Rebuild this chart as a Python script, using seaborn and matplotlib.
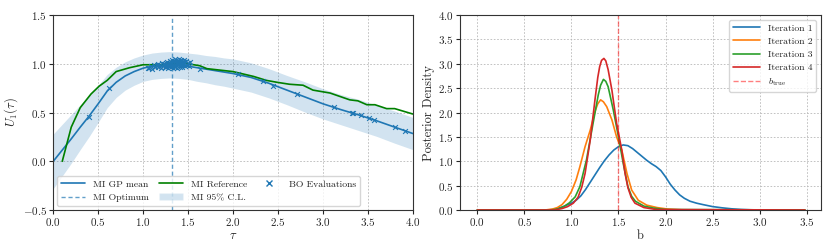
import numpy as np
import matplotlib.pyplot as plt
import seaborn as sns
from matplotlib.lines import Line2D
from matplotlib.patches import Patch

sns.set_style("ticks")
plt.rcParams['font.family'] = ['cmr10', 'DejaVu Serif']
plt.rcParams['mathtext.fontset'] = 'cm'
plt.rcParams['axes.formatter.use_mathtext'] = True
plt.rcParams['axes.edgecolor'] = '#333333'
plt.rcParams['axes.linewidth'] = 0.8

# ---- left panel data: MI utility vs tau ----
tau_gp = [0.0, 0.1, 0.2, 0.3, 0.4, 0.5, 0.6, 0.7, 0.8, 0.9, 1.0, 1.1, 1.2, 1.3,
          1.4, 1.5, 1.6, 1.7, 1.8, 1.9, 2.0, 2.2, 2.4, 2.6, 2.8, 3.0, 3.2, 3.4,
          3.6, 3.8, 4.0]
mean_gp = [0.0, 0.115, 0.23, 0.35, 0.465, 0.59, 0.72, 0.81, 0.875, 0.92, 0.955,
           0.975, 0.985, 0.99, 0.985, 0.975, 0.96, 0.945, 0.93, 0.915, 0.9,
           0.86, 0.80, 0.73, 0.66, 0.59, 0.53, 0.475, 0.415, 0.35, 0.285]
halfwidth_gp = [0.28, 0.265, 0.25, 0.23, 0.21, 0.19, 0.17, 0.155, 0.145, 0.14,
                0.135, 0.135, 0.135, 0.135, 0.135, 0.135, 0.14, 0.14, 0.145,
                0.145, 0.15, 0.15, 0.15, 0.15, 0.155, 0.155, 0.155, 0.16, 0.16,
                0.165, 0.165]

tau_ref = [0.10, 0.20, 0.30, 0.42, 0.51, 0.60, 0.70, 0.85, 1.0, 1.2, 1.43, 1.63,
           1.71, 2.0, 2.23, 2.37, 2.49, 2.63, 2.78, 2.89, 3.08, 3.30, 3.39, 3.49,
           3.58, 3.71, 3.80, 4.0]
u_ref = [0.0, 0.35, 0.55, 0.69, 0.77, 0.83, 0.92, 0.96, 0.99, 0.99, 1.01, 0.98,
         0.95, 0.92, 0.87, 0.83, 0.81, 0.79, 0.78, 0.73, 0.70, 0.63, 0.62, 0.58,
         0.58, 0.54, 0.54, 0.485]

tau_bo = [0.40, 0.62, 1.05, 1.07, 1.09, 1.10, 1.12, 1.13, 1.15, 1.16, 1.17, 1.18,
          1.19, 1.20, 1.21, 1.22, 1.23, 1.24, 1.25, 1.25, 1.26, 1.27, 1.27, 1.28,
          1.29, 1.29, 1.30, 1.30, 1.31, 1.31, 1.32, 1.32, 1.33, 1.33, 1.34, 1.34,
          1.35, 1.35, 1.36, 1.36, 1.37, 1.37, 1.38, 1.38, 1.39, 1.39, 1.40, 1.40,
          1.41, 1.41, 1.42, 1.42, 1.43, 1.43, 1.44, 1.44, 1.45, 1.45, 1.46, 1.47,
          1.48, 1.49, 1.50, 1.51, 1.52, 1.63, 2.06, 2.33, 2.45, 2.71, 3.12, 3.32,
          3.34, 3.42, 3.51, 3.57, 3.80, 3.92]
u_bo = [0.457, 0.748, 0.955, 0.96, 0.975, 0.95, 0.985, 0.965, 0.99, 0.97, 1.0,
        0.975, 0.99, 0.96, 1.005, 0.98, 0.995, 0.965, 1.01, 0.985, 0.97, 1.02,
        0.99, 0.96, 1.005, 0.98, 1.03, 0.995, 0.965, 1.015, 0.985, 1.04, 1.0,
        0.955, 1.025, 0.98, 1.045, 0.995, 0.97, 1.02, 0.99, 1.035, 1.005, 0.96,
        1.03, 0.985, 1.045, 1.0, 0.97, 1.02, 0.99, 1.035, 1.005, 0.965, 1.025,
        0.985, 1.04, 0.995, 1.015, 0.975, 1.03, 0.99, 1.01, 0.975, 1.02, 0.95,
        0.90, 0.82, 0.775, 0.69, 0.553, 0.50, 0.495, 0.474, 0.44, 0.423, 0.348,
        0.31]
tau_opt = 1.32

# ---- right panel data: posterior densities of b ----
b1 = [0.0, 0.75, 0.8, 0.85, 0.9, 0.95, 1.0, 1.05, 1.1, 1.15, 1.2, 1.25, 1.3,
      1.35, 1.4, 1.45, 1.5, 1.55, 1.6, 1.65, 1.7, 1.75, 1.8, 1.85, 1.9, 1.95,
      2.0, 2.05, 2.1, 2.15, 2.2, 2.26, 2.33, 2.4, 2.5, 2.6, 2.7, 2.8, 2.9, 3.0,
      3.48]
d1 = [0.0, 0.0, 0.01, 0.03, 0.06, 0.10, 0.14, 0.20, 0.29, 0.42, 0.57, 0.72,
      0.87, 1.01, 1.13, 1.23, 1.30, 1.335, 1.32, 1.26, 1.18, 1.10, 1.02, 0.95,
      0.89, 0.81, 0.68, 0.53, 0.41, 0.31, 0.24, 0.18, 0.14, 0.11, 0.07, 0.045,
      0.025, 0.012, 0.005, 0.0, 0.0]
b2 = [0.0, 0.72, 0.8, 0.85, 0.9, 0.95, 1.0, 1.05, 1.09, 1.145, 1.20, 1.25,
      1.28, 1.31, 1.34, 1.375, 1.43, 1.48, 1.535, 1.59, 1.64, 1.71, 1.80, 1.91,
      2.02, 2.2, 3.48]
d2 = [0.0, 0.0, 0.02, 0.05, 0.11, 0.22, 0.38, 0.62, 0.89, 1.30, 1.64, 2.02,
      2.18, 2.26, 2.22, 2.12, 1.85, 1.50, 1.23, 0.75, 0.41, 0.20, 0.10, 0.05,
      0.02, 0.0, 0.0]
b3 = [0.0, 0.78, 0.85, 0.92, 0.98, 1.04, 1.09, 1.16, 1.23, 1.285, 1.31, 1.34,
      1.365, 1.39, 1.445, 1.50, 1.55, 1.60, 1.64, 1.68, 1.77, 1.87, 2.0, 3.48]
d3 = [0.0, 0.0, 0.02, 0.07, 0.15, 0.27, 0.48, 1.03, 1.78, 2.36, 2.56, 2.68,
      2.64, 2.53, 2.05, 1.50, 0.96, 0.48, 0.28, 0.18, 0.08, 0.04, 0.01, 0.0]
b4 = [0.0, 0.82, 0.9, 0.96, 1.02, 1.07, 1.11, 1.145, 1.20, 1.25, 1.28, 1.30,
      1.32, 1.345, 1.365, 1.39, 1.43, 1.48, 1.535, 1.57, 1.60, 1.635, 1.675,
      1.77, 1.9, 3.48]
d4 = [0.0, 0.0, 0.03, 0.07, 0.14, 0.26, 0.47, 0.75, 1.44, 2.26, 2.72, 2.94,
      3.07, 3.11, 3.06, 2.88, 2.46, 1.78, 1.23, 0.75, 0.46, 0.26, 0.14, 0.05,
      0.01, 0.0]
b_true = 1.5

blue = sns.color_palette("tab10")[0]
fig = plt.figure(figsize=(8.3, 2.49), dpi=100)
ax1 = fig.add_axes([0.0642, 0.1566, 0.433, 0.783])
ax2 = fig.add_axes([0.5542, 0.1566, 0.435, 0.783])

grid_kw = dict(color='#b8b8b8', linestyle=(0, (2, 2)), linewidth=0.6)

# left panel
lo = np.array(mean_gp) - np.array(halfwidth_gp)
hi = np.array(mean_gp) + np.array(halfwidth_gp)
ax1.fill_between(tau_gp, lo, hi, color=blue, alpha=0.2, linewidth=0)
sns.lineplot(x=tau_gp, y=mean_gp, ax=ax1, color=blue, linewidth=1.2)
sns.lineplot(x=tau_ref, y=u_ref, ax=ax1, color='green', linewidth=1.2)
sns.scatterplot(x=tau_bo, y=u_bo, ax=ax1, marker='x', color=blue, s=12,
                linewidth=0.8, zorder=3)
ax1.axvline(tau_opt, color=blue, linestyle=(0, (3, 2)), linewidth=1.0,
            alpha=0.7)
ax1.set_xlim(0, 4)
ax1.set_ylim(-0.5, 1.5)
ax1.set_xticks(np.arange(0, 4.01, 0.5))
ax1.set_yticks(np.arange(-0.5, 1.51, 0.5))
ax1.grid(True, **grid_kw)
ax1.set_xlabel(r'$\tau$', fontsize=9, labelpad=1)
ax1.set_ylabel(r'$U_1(\tau)$', fontsize=9, labelpad=2)
ax1.tick_params(labelsize=8, length=3, pad=1.5)
handles1 = [
    Line2D([], [], color=blue, linewidth=1.2, label='MI GP mean'),
    Line2D([], [], color=blue, linestyle=(0, (3, 2)), linewidth=1.0,
           alpha=0.7, label='MI Optimum'),
    Line2D([], [], color='green', linewidth=1.2, label='MI Reference'),
    Patch(facecolor=blue, alpha=0.2, label='MI 95% C.L.'),
    Line2D([], [], color=blue, marker='x', linestyle='none', markersize=4,
           label='BO Evaluations'),
]
ax1.legend(handles=handles1, loc='lower left', ncol=3, fontsize=7,
           frameon=True, framealpha=0.8, borderaxespad=0.4, columnspacing=1.0,
           handlelength=2.5)

# right panel
colors = sns.color_palette("tab10")
for i, (bx, dy) in enumerate([(b1, d1), (b2, d2), (b3, d3), (b4, d4)]):
    sns.lineplot(x=bx, y=dy, ax=ax2, color=colors[i], linewidth=1.2,
                 label=f'Iteration {i + 1}')
ax2.axvline(b_true, color='red', linestyle='--', linewidth=1.0, alpha=0.5,
            label=r'$b_{\rm true}$')
ax2.set_xlim(-0.184, 3.652)
ax2.set_ylim(0, 4)
ax2.set_xticks(np.arange(0, 3.51, 0.5))
ax2.set_yticks(np.arange(0, 4.01, 0.5))
ax2.grid(True, **grid_kw)
ax2.set_xlabel('b', fontsize=9, labelpad=1)
ax2.set_ylabel('Posterior Density', fontsize=9, labelpad=2)
ax2.tick_params(labelsize=8, length=3, pad=1.5)
ax2.legend(loc='upper right', fontsize=7, frameon=True, framealpha=0.8,
           handlelength=2.8, labelspacing=0.45)

fig.savefig("out.png", dpi=100)
